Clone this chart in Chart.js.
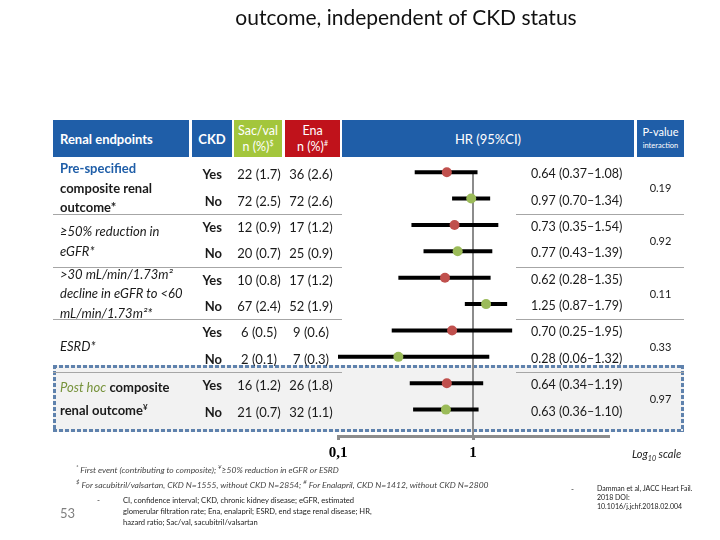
<!DOCTYPE html>
<html>
<head>
<meta charset="utf-8">
<script src="https://cdn.jsdelivr.net/npm/chart.js@4.4.0/dist/chart.umd.min.js"></script>
<style>
  body { margin: 0; width: 720px; height: 540px; position: relative; overflow: hidden; background: #fff;
         font-family: Lato, "Open Sans", sans-serif; color: #1a1a1a; }
  .abs { position: absolute; white-space: nowrap; }
  #chart { position: absolute; left: 0; top: 0; z-index: 1; }
  .txt { z-index: 2; }
  .hdr { position: absolute; top: 120px; height: 37px; color: #fff; font-weight: bold; font-size: 13px;
         display: flex; align-items: center; justify-content: center; text-align: center; line-height: 16px;
         white-space: nowrap; }
  .sep { position: absolute; height: 0; border-top: 1.5px solid #a6a6a6; z-index: 2; }
  .dot { position: absolute; z-index: 0; }
  .blue { color: #1f5ea8; }
  .green { color: #77933c; }
</style>
</head>
<body>
<div class="abs txt" style="left:0;width:812px;top:4px;text-align:center;font-size:21px;color:#111">outcome, independent of CKD status</div>

<div class="hdr" style="left:53px;width:136px;background:#1f5ea8;justify-content:flex-start;padding-left:7px;box-sizing:border-box"><div>Renal endpoints</div></div>
<div class="hdr" style="left:192px;width:40px;background:#1f5ea8"><div>CKD</div></div>
<div class="hdr" style="left:234px;width:48px;background:#a3c63c;font-weight:normal;font-size:12.5px"><div>Sac/val<br>n (%)<sup style="font-size:7px;line-height:0">$</sup></div></div>
<div class="hdr" style="left:285px;width:55px;background:#c0121b;font-weight:normal;font-size:12.5px"><div>Ena<br>n (%)<sup style="font-size:7px;line-height:0">#</sup></div></div>
<div class="hdr" style="left:342px;width:292px;background:#1f5ea8;font-weight:normal"><div>HR (95%CI)</div></div>
<div class="hdr" style="left:637px;width:47px;background:#1f5ea8;font-weight:normal;font-size:11px;line-height:12px"><div>P-value<br><span style="font-size:7.5px">interaction</span></div></div>

<div id="box" class="dot" style="left:53px;width:631px;top:365px;height:67px;background:#f2f2f2"></div>

<canvas id="chart" width="720" height="540"></canvas>
<div id="table"></div>

<div class="abs txt" style="left:632px;top:447px;font-size:11px;font-style:italic;color:#222">Log<sub style="font-size:7px">10</sub> scale</div>
<div class="abs txt" style="left:76px;top:461px;font-size:8.5px;font-style:italic;color:#444;line-height:11.5px">
  <sup style="font-size:6px">*</sup> First event (contributing to composite); <sup style="font-size:6px">¥</sup>≥50% reduction in eGFR or ESRD<br>
  <sup style="font-size:6px">$</sup> For sacubitril/valsartan, CKD N=1555, without CKD N=2854; <sup style="font-size:6px">#</sup> For Enalapril, CKD N=1412, without CKD N=2800
</div>
<div class="abs txt" style="left:60px;top:505px;font-size:13px;color:#7f7f7f">53</div>
<div class="abs txt" style="left:97px;top:495px;font-size:8px;color:#222">-</div>
<div class="abs txt" style="left:123px;top:495px;font-size:7.6px;color:#222;line-height:11px">
  CI, confidence interval; CKD, chronic kidney disease; eGFR, estimated<br>
  glomerular filtration rate; Ena, enalapril; ESRD, end stage renal disease; HR,<br>
  hazard ratio; Sac/val, sacubitril/valsartan
</div>
<div class="abs txt" style="left:571px;top:484px;font-size:8px;color:#222">-</div>
<div class="abs txt" style="left:597px;top:484px;font-size:7px;color:#222;line-height:9px">
  Damman et al, JACC Heart Fail.<br>2018 DOI:<br>10.1016/j.jchf.2018.02.004
</div>

<script>
// rows: two per endpoint (CKD yes / no)
const groupLabels = [
  '<b class="blue">Pre-specified</b><br><b>composite renal<br>outcome*</b>',
  '<i>≥50% reduction in<br>eGFR*</i>',
  '<i>&gt;30 mL/min/1.73m²<br>decline in eGFR to &lt;60<br>mL/min/1.73m²*</i>',
  '<i>ESRD*</i>',
  '<i class="green">Post hoc</i> <b>composite<br>renal outcome<sup style="font-size:8px">¥</sup></b>'
];
const ckdStatus = ['Yes', 'No', 'Yes', 'No', 'Yes', 'No', 'Yes', 'No', 'Yes', 'No'];
const sacVal = ['22 (1.7)', '72 (2.5)', '12 (0.9)', '20 (0.7)', '10 (0.8)', '67 (2.4)', '6 (0.5)', '2 (0.1)', '16 (1.2)', '21 (0.7)'];
const ena = ['36 (2.6)', '72 (2.6)', '17 (1.2)', '25 (0.9)', '17 (1.2)', '52 (1.9)', '9 (0.6)', '7 (0.3)', '26 (1.8)', '32 (1.1)'];
const hr = [0.64, 0.97, 0.73, 0.77, 0.62, 1.25, 0.70, 0.28, 0.64, 0.63];
const ciLow = [0.37, 0.70, 0.35, 0.43, 0.28, 0.87, 0.25, 0.06, 0.34, 0.36];
const ciHigh = [1.08, 1.34, 1.54, 1.39, 1.35, 1.79, 1.95, 1.32, 1.19, 1.10];
const pInteraction = ['0.19', '0.92', '0.11', '0.33', '0.97'];
const xTicks = [0.1, 1];

const rowIdx = hr.map((v, i) => i);
const dotColors = ckdStatus.map(s => s === 'Yes' ? '#c0504d' : '#9bbb59');

const whiskers = rowIdx.map(i => ({
  type: 'line',
  data: [{x: ciLow[i], y: i}, {x: ciHigh[i], y: i}],
  borderColor: '#000',
  borderWidth: 4,
  borderCapStyle: 'butt',
  pointRadius: 0,
  clip: 0,
  order: 1
}));

const refLine = {
  id: 'refLine',
  beforeDatasetsDraw(chart) {
    const {ctx, chartArea} = chart;
    const x = chart.scales.x, y = chart.scales.y;
    const px = x.getPixelForValue(1);
    ctx.save();
    ctx.strokeStyle = '#8c8c8c';
    ctx.lineWidth = 2;
    ctx.beginPath();
    ctx.moveTo(px, y.getPixelForValue(0));
    ctx.lineTo(px, chartArea.bottom);
    ctx.stroke();
    ctx.restore();
  }
};

const chart = new Chart(document.getElementById('chart'), {
  type: 'scatter',
  data: {
    datasets: [{
      type: 'scatter',
      data: rowIdx.map(i => ({x: hr[i], y: i})),
      pointRadius: 5,
      pointBackgroundColor: dotColors,
      pointBorderWidth: 0,
      order: 0
    }].concat(whiskers)
  },
  options: {
    responsive: false,
    animation: false,
    layout: { padding: { left: 338, right: 112, top: 159, bottom: 74 } },
    plugins: { legend: { display: false }, tooltip: { enabled: false } },
    scales: {
      x: {
        type: 'logarithmic',
        min: 0.1,
        max: 10,
        afterBuildTicks: s => { s.ticks = xTicks.map(v => ({value: v})); },
        afterFit: s => { s.height = 30; },
        border: { display: true, color: '#8c8c8c', width: 3 },
        grid: { drawOnChartArea: false, drawTicks: true, tickLength: 4, color: '#8c8c8c', lineWidth: 3 },
        ticks: {
          color: '#000',
          padding: 4,
          font: { family: '"Liberation Serif", serif', size: 15, weight: 'bold' },
          callback: v => String(v).replace('.', ',')
        }
      },
      y: { type: 'linear', display: false, reverse: true, min: -0.5, max: 10 }
    }
  },
  plugins: [refLine]
});

// table text positioned on the chart's row scale
const ys = chart.scales.y;
const table = document.getElementById('table');
let html = '';
function cell(style, content) {
  html += '<div class="abs txt" style="' + style + '">' + content + '</div>';
}
rowIdx.forEach(i => {
  const y = ys.getPixelForValue(i) + 2;
  cell('left:180px;width:42px;text-align:right;top:' + (y - 9) + 'px;font-size:13px;font-weight:bold;line-height:18px', ckdStatus[i]);
  cell('left:229px;width:60px;text-align:center;top:' + (y - 9) + 'px;font-size:13px;line-height:18px', sacVal[i]);
  cell('left:281px;width:60px;text-align:center;top:' + (y - 9) + 'px;font-size:13px;line-height:18px', ena[i]);
  cell('left:531px;top:' + (y - 9) + 'px;font-size:12.5px;line-height:18px',
       hr[i].toFixed(2) + ' (' + ciLow[i].toFixed(2) + '–' + ciHigh[i].toFixed(2) + ')');
});
groupLabels.forEach((lab, g) => {
  const mid = (ys.getPixelForValue(2 * g) + ys.getPixelForValue(2 * g + 1)) / 2 + 3;
  cell('left:60px;top:' + mid + 'px;transform:translateY(-50%);font-size:13px;line-height:19.5px', lab);
  cell('left:637px;width:47px;text-align:center;top:' + (mid - 8) + 'px;font-size:11px;line-height:16px', pInteraction[g]);
  if (g < groupLabels.length - 1) {
    const sy = (ys.getPixelForValue(2 * g + 1) + ys.getPixelForValue(2 * g + 2)) / 2 + 2;
    html += '<div class="sep" style="left:53px;width:289px;top:' + sy + 'px"></div>';
    html += '<div class="sep" style="left:516px;width:168px;top:' + sy + 'px"></div>';
  }
});
table.innerHTML = html;

// dotted frame round the post hoc rows
const box = document.getElementById('box');
const dots = 'repeating-linear-gradient(90deg,#5f82ad 0 4px,transparent 4px 6px)';
const dotsV = 'repeating-linear-gradient(180deg,#5f82ad 0 4px,transparent 4px 6px)';
[['left:0;top:0;width:100%;height:3px', dots], ['left:0;bottom:0;width:100%;height:3px', dots],
 ['left:0;top:0;width:3px;height:100%', dotsV], ['right:0;top:0;width:3px;height:100%', dotsV]]
  .forEach(([pos, bg]) => {
    const d = document.createElement('div');
    d.style.cssText = 'position:absolute;' + pos + ';background:' + bg;
    box.appendChild(d);
  });
</script>
</body>
</html>
